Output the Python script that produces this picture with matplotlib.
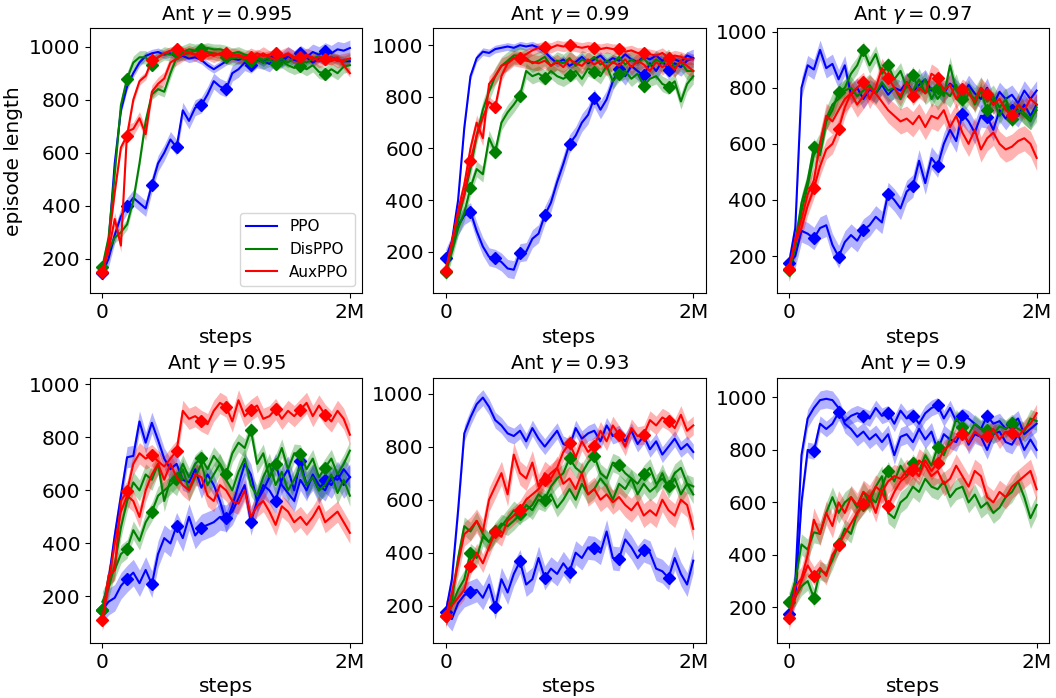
import numpy as np
import matplotlib.pyplot as plt

# 41 evaluation points from 0 to 2M steps
steps = np.linspace(0, 2e6, 41)

methods = ['PPO', 'DisPPO', 'AuxPPO']
colors = ['blue', 'green', 'red']
gammas = ['0.995', '0.99', '0.97', '0.95', '0.93', '0.9']

# ---- gamma = 0.995
g995_ppo_a = [150, 260, 560, 760, 850, 900, 940, 965, 975, 980, 970, 975, 960, 965, 955, 960, 950, 930, 915, 930, 945,
              955, 950, 960, 945, 955, 940, 960, 950, 940, 965, 950, 945, 960, 940, 955, 945, 960, 950, 945, 945]
g995_ppo_b = [145, 200, 290, 360, 400, 430, 410, 390, 480, 560, 600, 650, 620, 760, 720, 770, 780, 820, 870, 850, 840,
              900, 915, 940, 930, 950, 945, 935, 960, 950, 970, 955, 975, 960, 980, 970, 985, 975, 990, 985, 995]
g995_dis_a = [165, 230, 280, 300, 330, 420, 560, 720, 820, 840, 830, 900, 960, 970, 975, 985, 990, 995, 990, 990, 985,
              975, 980, 970, 965, 960, 950, 960, 945, 955, 940, 960, 950, 940, 955, 965, 945, 960, 950, 945, 955]
g995_dis_b = [170, 280, 520, 780, 880, 940, 960, 960, 930, 960, 975, 970, 975, 980, 990, 985, 990, 980, 975, 970, 960,
              955, 960, 950, 945, 955, 940, 950, 935, 945, 930, 920, 928, 915, 930, 905, 898, 915, 900, 925, 930]
g995_aux_a = [150, 230, 350, 250, 680, 690, 730, 670, 830, 860, 880, 940, 955, 970, 980, 970, 985, 975, 965, 975, 960,
              970, 965, 955, 970, 960, 975, 960, 950, 965, 975, 960, 955, 970, 960, 945, 955, 960, 945, 950, 955]
g995_aux_b = [150, 260, 450, 620, 665, 800, 870, 890, 950, 960, 975, 985, 990, 985, 975, 970, 970, 965, 975, 970, 975,
              965, 970, 960, 960, 975, 965, 970, 975, 960, 970, 955, 960, 965, 950, 960, 955, 945, 960, 930, 900]
g995_std = [15, 30, 20, 25, 25, 15]

# ---- gamma = 0.99
g99_ppo_a = [175, 240, 400, 680, 880, 950, 975, 970, 985, 990, 995, 990, 1000, 995, 1000, 990, 975, 950, 930, 945, 920,
             935, 955, 930, 945, 960, 935, 950, 940, 965, 945, 935, 955, 945, 960, 940, 955, 945, 935, 960, 950]
g99_ppo_b = [175, 230, 300, 340, 355, 280, 220, 180, 174, 160, 135, 130, 196, 200, 250, 270, 341, 390, 470, 540, 618,
             650, 700, 730, 795, 750, 790, 860, 908, 880, 920, 900, 883, 930, 900, 940, 904, 930, 915, 940, 950]
g99_dis_a = [120, 220, 320, 420, 520, 650, 750, 820, 880, 920, 940, 960, 960, 950, 930, 940, 955, 920, 940, 930, 950,
             920, 945, 935, 955, 925, 940, 930, 955, 925, 945, 930, 950, 920, 945, 930, 950, 915, 935, 900, 900]
g99_dis_b = [120, 200, 290, 350, 448, 520, 500, 640, 587, 700, 740, 770, 805, 900, 880, 890, 874, 900, 880, 870, 885,
             900, 870, 910, 898, 880, 920, 860, 889, 900, 870, 890, 843, 870, 880, 850, 839, 860, 782, 850, 880]
g99_aux_a = [130, 230, 360, 460, 600, 700, 640, 850, 880, 920, 930, 950, 945, 940, 935, 930, 940, 920, 935, 915, 945,
             930, 920, 945, 925, 940, 910, 935, 920, 945, 915, 940, 925, 900, 935, 915, 930, 905, 940, 920, 900]
g99_aux_b = [125, 240, 350, 420, 552, 650, 720, 780, 761, 880, 930, 950, 952, 965, 980, 990, 995, 990, 1000, 995, 1000,
             995, 990, 995, 990, 985, 990, 985, 985, 975, 980, 970, 971, 965, 960, 970, 952, 960, 955, 945, 945]
g99_std = [15, 35, 35, 30, 30, 20]

# ---- gamma = 0.97
g97_ppo_a = [175, 300, 800, 880, 865, 935, 870, 885, 830, 880, 775, 800, 760, 795, 780, 810, 775, 800, 790, 820, 785,
             810, 830, 790, 805, 780, 815, 795, 770, 810, 780, 760, 800, 740, 785, 760, 775, 745, 790, 760, 790]
g97_ppo_b = [175, 200, 290, 280, 263, 300, 310, 240, 198, 250, 275, 255, 293, 310, 340, 320, 423, 400, 370, 430, 450,
             540, 460, 550, 521, 600, 650, 610, 707, 680, 640, 700, 696, 650, 720, 690, 720, 700, 740, 700, 740]
g97_dis_a = [150, 230, 360, 450, 560, 600, 690, 740, 760, 790, 800, 770, 790, 810, 780, 820, 790, 800, 760, 810, 790,
             830, 780, 800, 760, 790, 770, 810, 740, 780, 760, 800, 750, 770, 730, 760, 700, 740, 710, 690, 720]
g97_dis_b = [150, 250, 390, 470, 589, 560, 680, 720, 784, 800, 850, 880, 935, 880, 920, 850, 880, 830, 860, 800, 847,
             790, 830, 760, 800, 770, 880, 790, 760, 800, 740, 790, 719, 760, 700, 740, 690, 720, 700, 680, 730]
g97_aux_a = [155, 260, 330, 420, 470, 600, 700, 680, 720, 760, 780, 740, 770, 800, 780, 750, 720, 700, 680, 690, 670,
             700, 660, 700, 690, 720, 660, 700, 640, 600, 650, 580, 620, 640, 600, 580, 590, 610, 620, 600, 550]
g97_aux_b = [155, 250, 300, 380, 441, 520, 580, 600, 652, 730, 780, 800, 820, 760, 800, 870, 835, 800, 770, 820, 772,
             800, 780, 850, 835, 790, 810, 760, 796, 780, 750, 800, 776, 740, 760, 720, 704, 740, 720, 760, 740]
g97_std = [35, 40, 40, 30, 45, 35]

# ---- gamma = 0.95
g95_ppo_a = [150, 260, 430, 580, 725, 730, 860, 780, 855, 790, 720, 680, 700, 640, 630, 680, 610, 660, 620, 560, 480,
             540, 620, 700, 660, 560, 600, 650, 700, 620, 590, 560, 640, 600, 660, 620, 600, 650, 640, 680, 650]
g95_ppo_b = [150, 180, 195, 240, 267, 290, 250, 300, 246, 360, 420, 400, 467, 420, 500, 430, 460, 470, 480, 500, 495,
             520, 570, 620, 480, 560, 620, 600, 561, 640, 680, 600, 709, 620, 650, 600, 640, 620, 660, 620, 650]
g95_dis_a = [180, 230, 320, 460, 560, 630, 600, 660, 640, 700, 560, 640, 620, 680, 600, 650, 700, 620, 660, 700, 640,
             600, 670, 720, 620, 580, 650, 700, 620, 670, 600, 640, 690, 620, 650, 600, 620, 660, 590, 640, 580]
g95_dis_b = [150, 270, 300, 360, 379, 450, 410, 480, 519, 580, 600, 620, 646, 700, 650, 700, 722, 680, 730, 700, 661,
             740, 780, 760, 828, 700, 740, 650, 700, 760, 680, 740, 737, 680, 720, 650, 686, 720, 660, 700, 750]
g95_aux_a = [110, 250, 400, 520, 580, 560, 500, 600, 660, 700, 640, 700, 650, 620, 600, 660, 650, 580, 560, 620, 600,
             560, 550, 600, 500, 540, 560, 520, 470, 540, 520, 480, 500, 470, 500, 540, 480, 500, 520, 480, 440]
g95_aux_b = [110, 280, 300, 560, 597, 700, 740, 720, 733, 710, 690, 720, 749, 900, 870, 880, 862, 850, 900, 930, 916,
             860, 940, 880, 903, 920, 870, 880, 907, 870, 900, 880, 905, 930, 880, 920, 885, 860, 900, 870, 810]
g95_std = [40, 50, 40, 35, 40, 40]

# ---- gamma = 0.93
g93_ppo_a = [175, 300, 560, 850, 910, 960, 985, 950, 900, 880, 850, 840, 860, 820, 870, 830, 800, 830, 860, 810, 800,
             870, 830, 850, 860, 820, 880, 840, 850, 820, 860, 810, 840, 790, 820, 770, 800, 830, 790, 810, 780]
g93_ppo_b = [178, 150, 210, 240, 250, 260, 230, 280, 194, 300, 250, 320, 367, 280, 300, 380, 305, 340, 320, 360, 328,
             400, 380, 420, 417, 400, 480, 380, 377, 450, 420, 380, 410, 400, 340, 330, 305, 380, 320, 280, 370]
g93_dis_a = [160, 220, 380, 500, 480, 520, 470, 440, 470, 500, 530, 560, 540, 580, 560, 600, 590, 620, 570, 600, 640,
             600, 660, 620, 640, 680, 650, 600, 660, 640, 680, 620, 660, 630, 650, 700, 640, 680, 620, 660, 620]
g93_dis_b = [160, 200, 260, 300, 400, 380, 460, 440, 480, 510, 500, 520, 546, 560, 580, 620, 600, 650, 680, 700, 756,
             720, 700, 740, 766, 700, 680, 740, 729, 700, 680, 660, 695, 720, 660, 680, 651, 700, 720, 660, 650]
g93_aux_a = [160, 250, 360, 470, 490, 520, 480, 600, 650, 700, 620, 770, 700, 680, 740, 650, 700, 680, 720, 660, 680,
             640, 700, 620, 640, 600, 620, 590, 610, 580, 560, 590, 540, 560, 540, 600, 560, 540, 600, 580, 490]
g93_aux_b = [160, 200, 230, 260, 351, 400, 360, 420, 478, 460, 520, 540, 562, 600, 620, 640, 674, 700, 720, 780, 812,
             760, 820, 780, 802, 860, 820, 880, 845, 800, 870, 840, 845, 900, 880, 910, 896, 870, 920, 860, 880]
g93_std = [30, 45, 35, 35, 45, 35]

# ---- gamma = 0.9
g9_ppo_a = [175, 300, 780, 920, 960, 990, 995, 990, 960, 900, 880, 850, 870, 840, 860, 830, 860, 780, 850, 860, 830,
            880, 840, 870, 800, 860, 840, 830, 880, 820, 860, 850, 800, 860, 870, 830, 820, 860, 800, 840, 800]
g9_ppo_b = [175, 240, 600, 800, 795, 900, 880, 900, 943, 910, 930, 940, 930, 920, 960, 930, 940, 900, 950, 920, 931,
            900, 940, 960, 970, 920, 960, 910, 930, 920, 900, 880, 930, 900, 910, 880, 900, 920, 860, 880, 900]
g9_dis_a = [220, 300, 440, 420, 486, 480, 560, 620, 560, 600, 620, 580, 640, 600, 660, 700, 560, 540, 600, 620, 660,
            640, 690, 660, 650, 680, 620, 650, 660, 600, 630, 580, 600, 560, 580, 620, 640, 680, 620, 540, 590]
g9_dis_b = [222, 240, 280, 300, 236, 340, 330, 380, 440, 500, 480, 560, 590, 620, 600, 660, 721, 680, 740, 700, 749,
            720, 780, 740, 811, 780, 840, 920, 886, 860, 900, 880, 877, 860, 890, 880, 901, 880, 870, 920, 910]
g9_aux_a = [155, 280, 310, 400, 534, 480, 560, 510, 600, 560, 620, 590, 640, 620, 660, 640, 680, 700, 690, 720, 700,
            760, 740, 700, 720, 670, 690, 740, 700, 660, 720, 700, 620, 600, 640, 620, 660, 680, 700, 720, 650]
g9_aux_b = [158, 240, 300, 360, 320, 350, 320, 400, 438, 480, 520, 560, 594, 620, 560, 640, 588, 640, 680, 700, 727,
            700, 760, 720, 751, 800, 820, 850, 859, 830, 870, 850, 853, 880, 840, 870, 865, 850, 880, 900, 940]
g9_std = [35, 30, 40, 35, 45, 35]

panels = [
    ([g995_ppo_a, g995_ppo_b, g995_dis_a, g995_dis_b, g995_aux_a, g995_aux_b], g995_std),
    ([g99_ppo_a, g99_ppo_b, g99_dis_a, g99_dis_b, g99_aux_a, g99_aux_b], g99_std),
    ([g97_ppo_a, g97_ppo_b, g97_dis_a, g97_dis_b, g97_aux_a, g97_aux_b], g97_std),
    ([g95_ppo_a, g95_ppo_b, g95_dis_a, g95_dis_b, g95_aux_a, g95_aux_b], g95_std),
    ([g93_ppo_a, g93_ppo_b, g93_dis_a, g93_dis_b, g93_aux_a, g93_aux_b], g93_std),
    ([g9_ppo_a, g9_ppo_b, g9_dis_a, g9_dis_b, g9_aux_a, g9_aux_b], g9_std),
]

marks = list(range(0, 40, 4))

fig, axes = plt.subplots(2, 3, figsize=(10.56, 6.98), dpi=100)
plt.subplots_adjust(left=0.0852, right=0.9934, bottom=0.0788, top=0.9599, wspace=0.261, hspace=0.317)

for n, ax in enumerate(axes.flat):
    runs, stds = panels[n]
    for m in range(3):
        c = colors[m]
        for r in range(2):
            y = np.array(runs[2 * m + r], dtype=float)
            s = stds[2 * m + r]
            ax.fill_between(steps, y - s, y + s, color=c, alpha=0.3, lw=0)
            if r == 0:
                ax.plot(steps, y, color=c, lw=1.5, label=methods[m])
            else:
                ax.plot(steps, y, color=c, lw=1.5, marker='D', ms=6, markevery=marks)
    ax.set_xticks([0, 2e6])
    ax.set_xticklabels(['0', '2M'])
    ax.set_title(r'Ant $\gamma = %s$' % gammas[n], fontsize=14)
    ax.set_xlabel('steps', fontsize=14.5)
    ax.tick_params(labelsize=14.5)

axes[0, 0].set_ylabel('episode length', fontsize=14.5)
axes[0, 0].legend(loc='lower right', fontsize=11)

plt.savefig('out.png', dpi=100)
